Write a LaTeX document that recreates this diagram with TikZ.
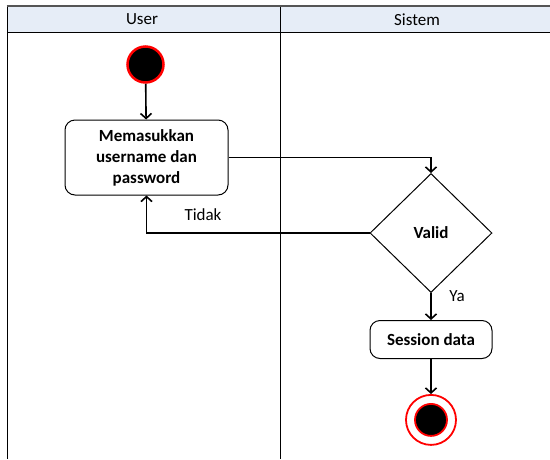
\documentclass[tikz,border=0pt]{standalone}
\usepackage{fontspec}
\setmainfont{Carlito}
\usetikzlibrary{shapes.geometric,arrows.meta,positioning}

\definecolor{lanehead}{RGB}{230,237,247}
\definecolor{laneline}{RGB}{85,85,85}

\begin{document}
\begin{tikzpicture}[x=1pt,y=-1pt,
every node/.style={align=center,inner sep=0},
state/.style={shape=rectangle,draw,rounded corners=10pt,line width=1pt,font=\fontsize{17}{21}\selectfont\bfseries},
decision/.style={shape=diamond,draw,line width=1pt,minimum width=122pt,minimum height=119pt,font=\fontsize{17}{21}\selectfont\bfseries},
initial/.style={shape=circle,draw=red,fill=black,line width=2.5pt,minimum size=36pt},
label/.style={font=\fontsize{17}{20}\selectfont},
flow/.style={draw=black,line width=1.6pt,-{Straight Barb[length=5pt,width=11pt,line width=1.6pt]}}]

\useasboundingbox (0,0) rectangle (550,459);

% lanes
\fill[lanehead] (7.5,6) rectangle (550,32);
\draw[line width=1pt] (7.5,32) -- (550,32);
\draw[line width=1pt] (7.5,6) -- (7.5,459);
\draw[line width=1pt] (280.5,6) -- (280.5,459);
\draw[laneline,line width=2pt] (6.5,6) -- (550,6);
\node [label] (user) at (142,19.5) {User};
\node [label] (sistem) at (417,19.5) {Sistem};

% activity
\node [initial] (start) at (145.5,64.5) {};
\node [state,minimum width=163pt,minimum height=75pt] (input) at (146.5,157.5) {Memasukkan\\username dan\\password};
\node [decision] (valid) at (431,233) {Valid};
\node [state,minimum width=122pt,minimum height=38pt,below=27pt of valid] (session) {Session data};
\node [shape=circle,draw=red,fill=white,line width=1.8pt,minimum size=50pt,below=35pt of session] (end) {};
\node [initial,line width=1.8pt,minimum size=32pt] (endin) at (end) {};

\path[flow] (start) -- (input);
\path[flow] (input.east) -| (valid.north);
\path[flow] (valid.west) -| (input.south);
\path[flow] (valid) -- (session);
\path[flow] (session) -- (end);

\node [label] (tidak) at (203,215) {Tidak};
\node [label] (ya) at (457,296) {Ya};

\end{tikzpicture}
\end{document}
